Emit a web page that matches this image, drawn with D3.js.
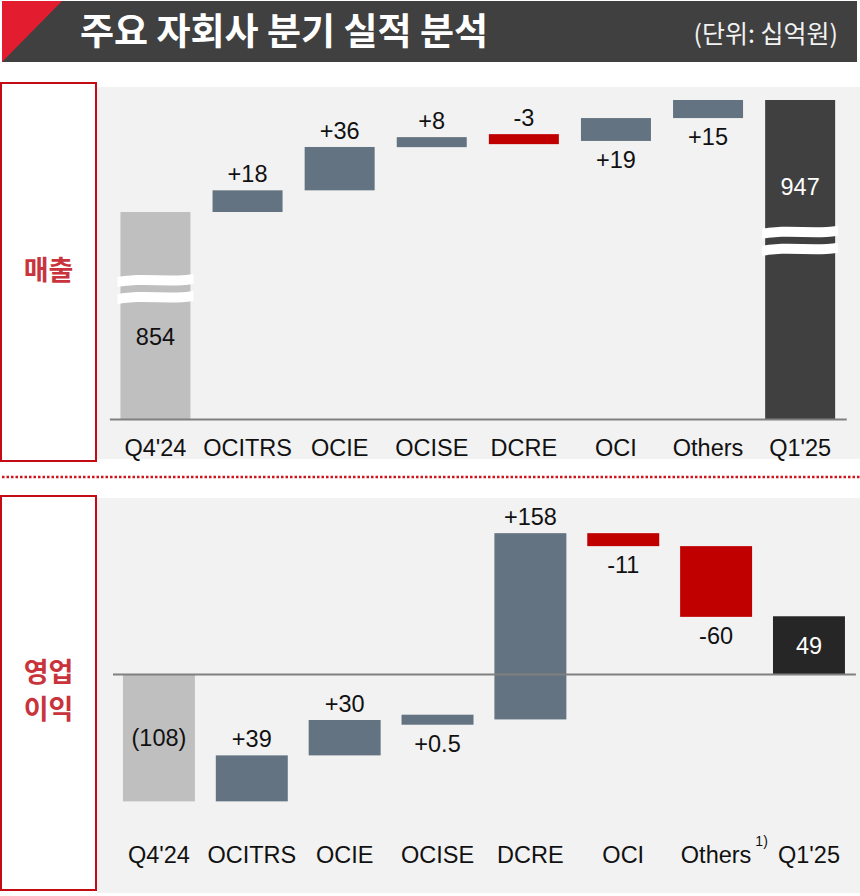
<!DOCTYPE html>
<html><head><meta charset="utf-8">
<script src="https://cdn.jsdelivr.net/npm/d3@7"></script>
<style>
html,body{margin:0;padding:0;background:#fff;}
svg{display:block;}
</style></head>
<body><svg id="chart" width="860" height="896"></svg>
<script>
// ---------------- DATA ----------------
const categories = ["Q4'24","OCITRS","OCIE","OCISE","DCRE","OCI","Others","Q1'25"];

// 매출 (revenue, 십억원)
const revenueStart = 854;
const revenueDeltas = [18, 36, 8, -3, 19, 15];
const revenueEnd = 947;
const revenueLabels = ["854","+18","+36","+8","-3","+19","+15","947"];
const revenueLabelPos = ["inside","above","above","above","above","below","below","inside"];

// 영업이익 (operating profit, 십억원)
const profitStart = -108;
const profitDeltas = [39, 30, 0.5, 158, -11, -60];
const profitEnd = 49;
const profitLabels = ["(108)","+39","+30","+0.5","+158","-11","-60","49"];
const profitLabelPos = ["inside","above","above","below","above","below","below","inside"];

const titleText = "주요 자회사 분기 실적 분석";
const unitText = "(단위: 십억원)";
const sectionNames = [["매출"], ["영업","이익"]];

// ---------------- STYLE ----------------
const C = {
  header:"#404040", accent:"#e31d2f", panel:"#f2f2f2", box:"#c40a12", boxText:"#c9333b",
  start:"#bfbfbf", up:"#637381", down:"#c00000", endRev:"#404040", endPro:"#262626",
  axis:"#808080", text:"#111111"
};
const LATIN = "'Liberation Sans', Arial, sans-serif";
const KR = "'Noto Sans CJK KR', 'Noto Sans', sans-serif";
const FS = 23.5;
const MIN_H = 10;

const svg = d3.select("#chart");

// ---------------- HEADER ----------------
svg.append("rect").attr("x",2).attr("y",1).attr("width",855).attr("height",61).attr("fill",C.header);
svg.append("path").attr("d","M2,1 L62,1 L2,62 Z").attr("fill",C.accent);
svg.append("text").attr("x",80).attr("y",45)
  .attr("font-family",KR).attr("font-weight",700).attr("font-size",37)
  .attr("fill","#ffffff").text(titleText);
svg.append("text").attr("x",838).attr("y",43).attr("text-anchor","end")
  .attr("font-family",KR).attr("font-weight",400).attr("font-size",25)
  .attr("fill","#f2f2f2").text(unitText);

// ---------------- PANELS ----------------
svg.append("rect").attr("x",97).attr("y",87).attr("width",763).attr("height",372).attr("fill",C.panel);
svg.append("rect").attr("x",97).attr("y",498).attr("width",763).attr("height",395).attr("fill",C.panel);

svg.append("line").attr("x1",2).attr("x2",860).attr("y1",477).attr("y2",477)
  .attr("stroke","#d0141c").attr("stroke-width",2.5).attr("stroke-dasharray","2.5,2");

function sectionBox(y, h, lines){
  svg.append("rect").attr("x",1).attr("y",y).attr("width",95).attr("height",h)
    .attr("fill","#ffffff").attr("stroke",C.box).attr("stroke-width",2);
  const cy = y + h/2 - 2, lh = 37;
  lines.forEach((t,i)=>{
    svg.append("text").attr("x",48.5).attr("y", cy + (i-(lines.length-1)/2)*lh)
      .attr("dy","0.36em").attr("text-anchor","middle")
      .attr("font-family",KR).attr("font-weight",700).attr("font-size",27)
      .attr("fill",C.boxText).text(t);
  });
}
sectionBox(83, 378, sectionNames[0]);
sectionBox(496, 394, sectionNames[1]);

// ---------------- WATERFALL ----------------
function buildRows(start, deltas, end){
  const rows = [{kind:"start", v0:null, v1:start}];
  let c = start;
  deltas.forEach(d => { rows.push({kind: d>=0 ? "up":"down", v0:c, v1:c+d}); c += d; });
  rows.push({kind:"end", v0:null, v1:end});
  return rows;
}

function drawWaterfall(o){
  const g = svg.append("g");
  const x = d3.scaleBand().domain(categories).range(o.xRange)
    .paddingInner(o.padIn).paddingOuter(o.padOut);
  const rows = buildRows(o.start, o.deltas, o.end);
  const geo = rows.map((r,i) => {
    let top, bot;
    if (r.v0 === null){
      const a = o.basePx, b = o.y(r.v1);
      top = Math.min(a,b); bot = Math.max(a,b);
    } else {
      const a = o.y(r.v0), b = o.y(r.v1);
      top = Math.min(a,b); bot = Math.max(a,b);
      if (bot - top < MIN_H){ const m=(top+bot)/2; top=m-MIN_H/2; bot=m+MIN_H/2; }
    }
    return {cat:categories[i], kind:r.kind, top, bot, label:o.labels[i], pos:o.labelPos[i], i};
  });
  const color = k => k==="start"?C.start : k==="up"?C.up : k==="down"?C.down : o.endColor;

  g.selectAll("rect.bar").data(geo).join("rect").attr("class","bar")
    .attr("x", d => x(d.cat)).attr("width", x.bandwidth())
    .attr("y", d => d.top).attr("height", d => d.bot - d.top)
    .attr("fill", d => color(d.kind));

  // axis break marks on totals
  if (o.breakFrac){
    geo.filter(d => o.breakFrac[d.i] !== undefined).forEach(d => {
      const yc = d.top + o.breakFrac[d.i]*(d.bot-d.top);
      const xa = x(d.cat)-3, xb = x(d.cat)+x.bandwidth()+3, w = xb-xa;
      [-8.5, 8.5].forEach(off => {
        const c = yc + off, t = 5;
        const p = `M${xa},${c-t+2} C${xa+w*0.35},${c-t-3} ${xa+w*0.65},${c-t+3} ${xb},${c-t-1}
                   L${xb},${c+t-1} C${xa+w*0.65},${c+t+3} ${xa+w*0.35},${c+t-3} ${xa},${c+t+2} Z`;
        g.append("path").attr("d",p).attr("fill","#ffffff");
      });
    });
  }

  // value labels
  g.selectAll("text.val").data(geo).join("text").attr("class","val")
    .attr("x", d => x(d.cat) + x.bandwidth()/2)
    .attr("y", d => d.pos==="above" ? d.top - 8
                 : d.pos==="below" ? d.bot + 27
                 : d.top + o.labelFrac[d.i]*(d.bot-d.top))
    .attr("dy", d => d.pos==="inside" ? "0.36em" : null)
    .attr("text-anchor","middle").attr("font-family",LATIN).attr("font-size",FS)
    .attr("fill", d => (d.pos==="inside" && d.kind==="end") ? "#ffffff" : C.text)
    .text(d => d.label);

  // category axis (domain path = baseline)
  const ax = g.append("g").attr("transform",`translate(0,${o.axisY})`)
    .call(d3.axisBottom(x).tickSize(0).tickSizeOuter(0).tickPadding(o.tickPad));
  ax.select(".domain").attr("stroke",C.axis).attr("stroke-width",2);
  ax.selectAll(".tick text").attr("font-family",LATIN).attr("font-size",FS).attr("fill",C.text);
  return {g, x, ax};
}

// Revenue: broken axis, totals drawn from baseline
const yRev = d3.scaleLinear().domain([854, 947]).range([212, 100]);
drawWaterfall({
  start:revenueStart, deltas:revenueDeltas, end:revenueEnd,
  labels:revenueLabels, labelPos:revenueLabelPos,
  y:yRev, basePx:419, axisY:419, tickPad:20,
  xRange:[109.4, 846.2], padIn:0.24, padOut:0.12,
  endColor:C.endRev,
  breakFrac:{0:0.37, 7:0.44}, labelFrac:{0:0.6, 7:0.27}
});

// Operating profit
const yPro = d3.scaleLinear().domain([-120, 140]).range([815.5, 509]);
const pro = drawWaterfall({
  start:profitStart, deltas:profitDeltas, end:profitEnd,
  labels:profitLabels, labelPos:profitLabelPos,
  y:yPro, basePx:yPro(0), axisY:yPro(0), tickPad:172,
  xRange:[112.5, 855.4], padIn:0.225, padOut:0.1125,
  endColor:C.endPro,
  labelFrac:{0:0.5, 7:0.5}
});

// footnote marker next to "Others"
pro.ax.selectAll(".tick").filter(d => d === "Others").each(function(){
  const t = d3.select(this).select("text");
  const w = t.node().getComputedTextLength();
  d3.select(this).append("text").attr("x", w/2 + 4).attr("y", 162)
    .attr("font-family",LATIN).attr("font-size",14).attr("fill",C.text)
    .attr("text-anchor","start").attr("dy","0.71em").text("1)");
});
</script>
</body></html>
